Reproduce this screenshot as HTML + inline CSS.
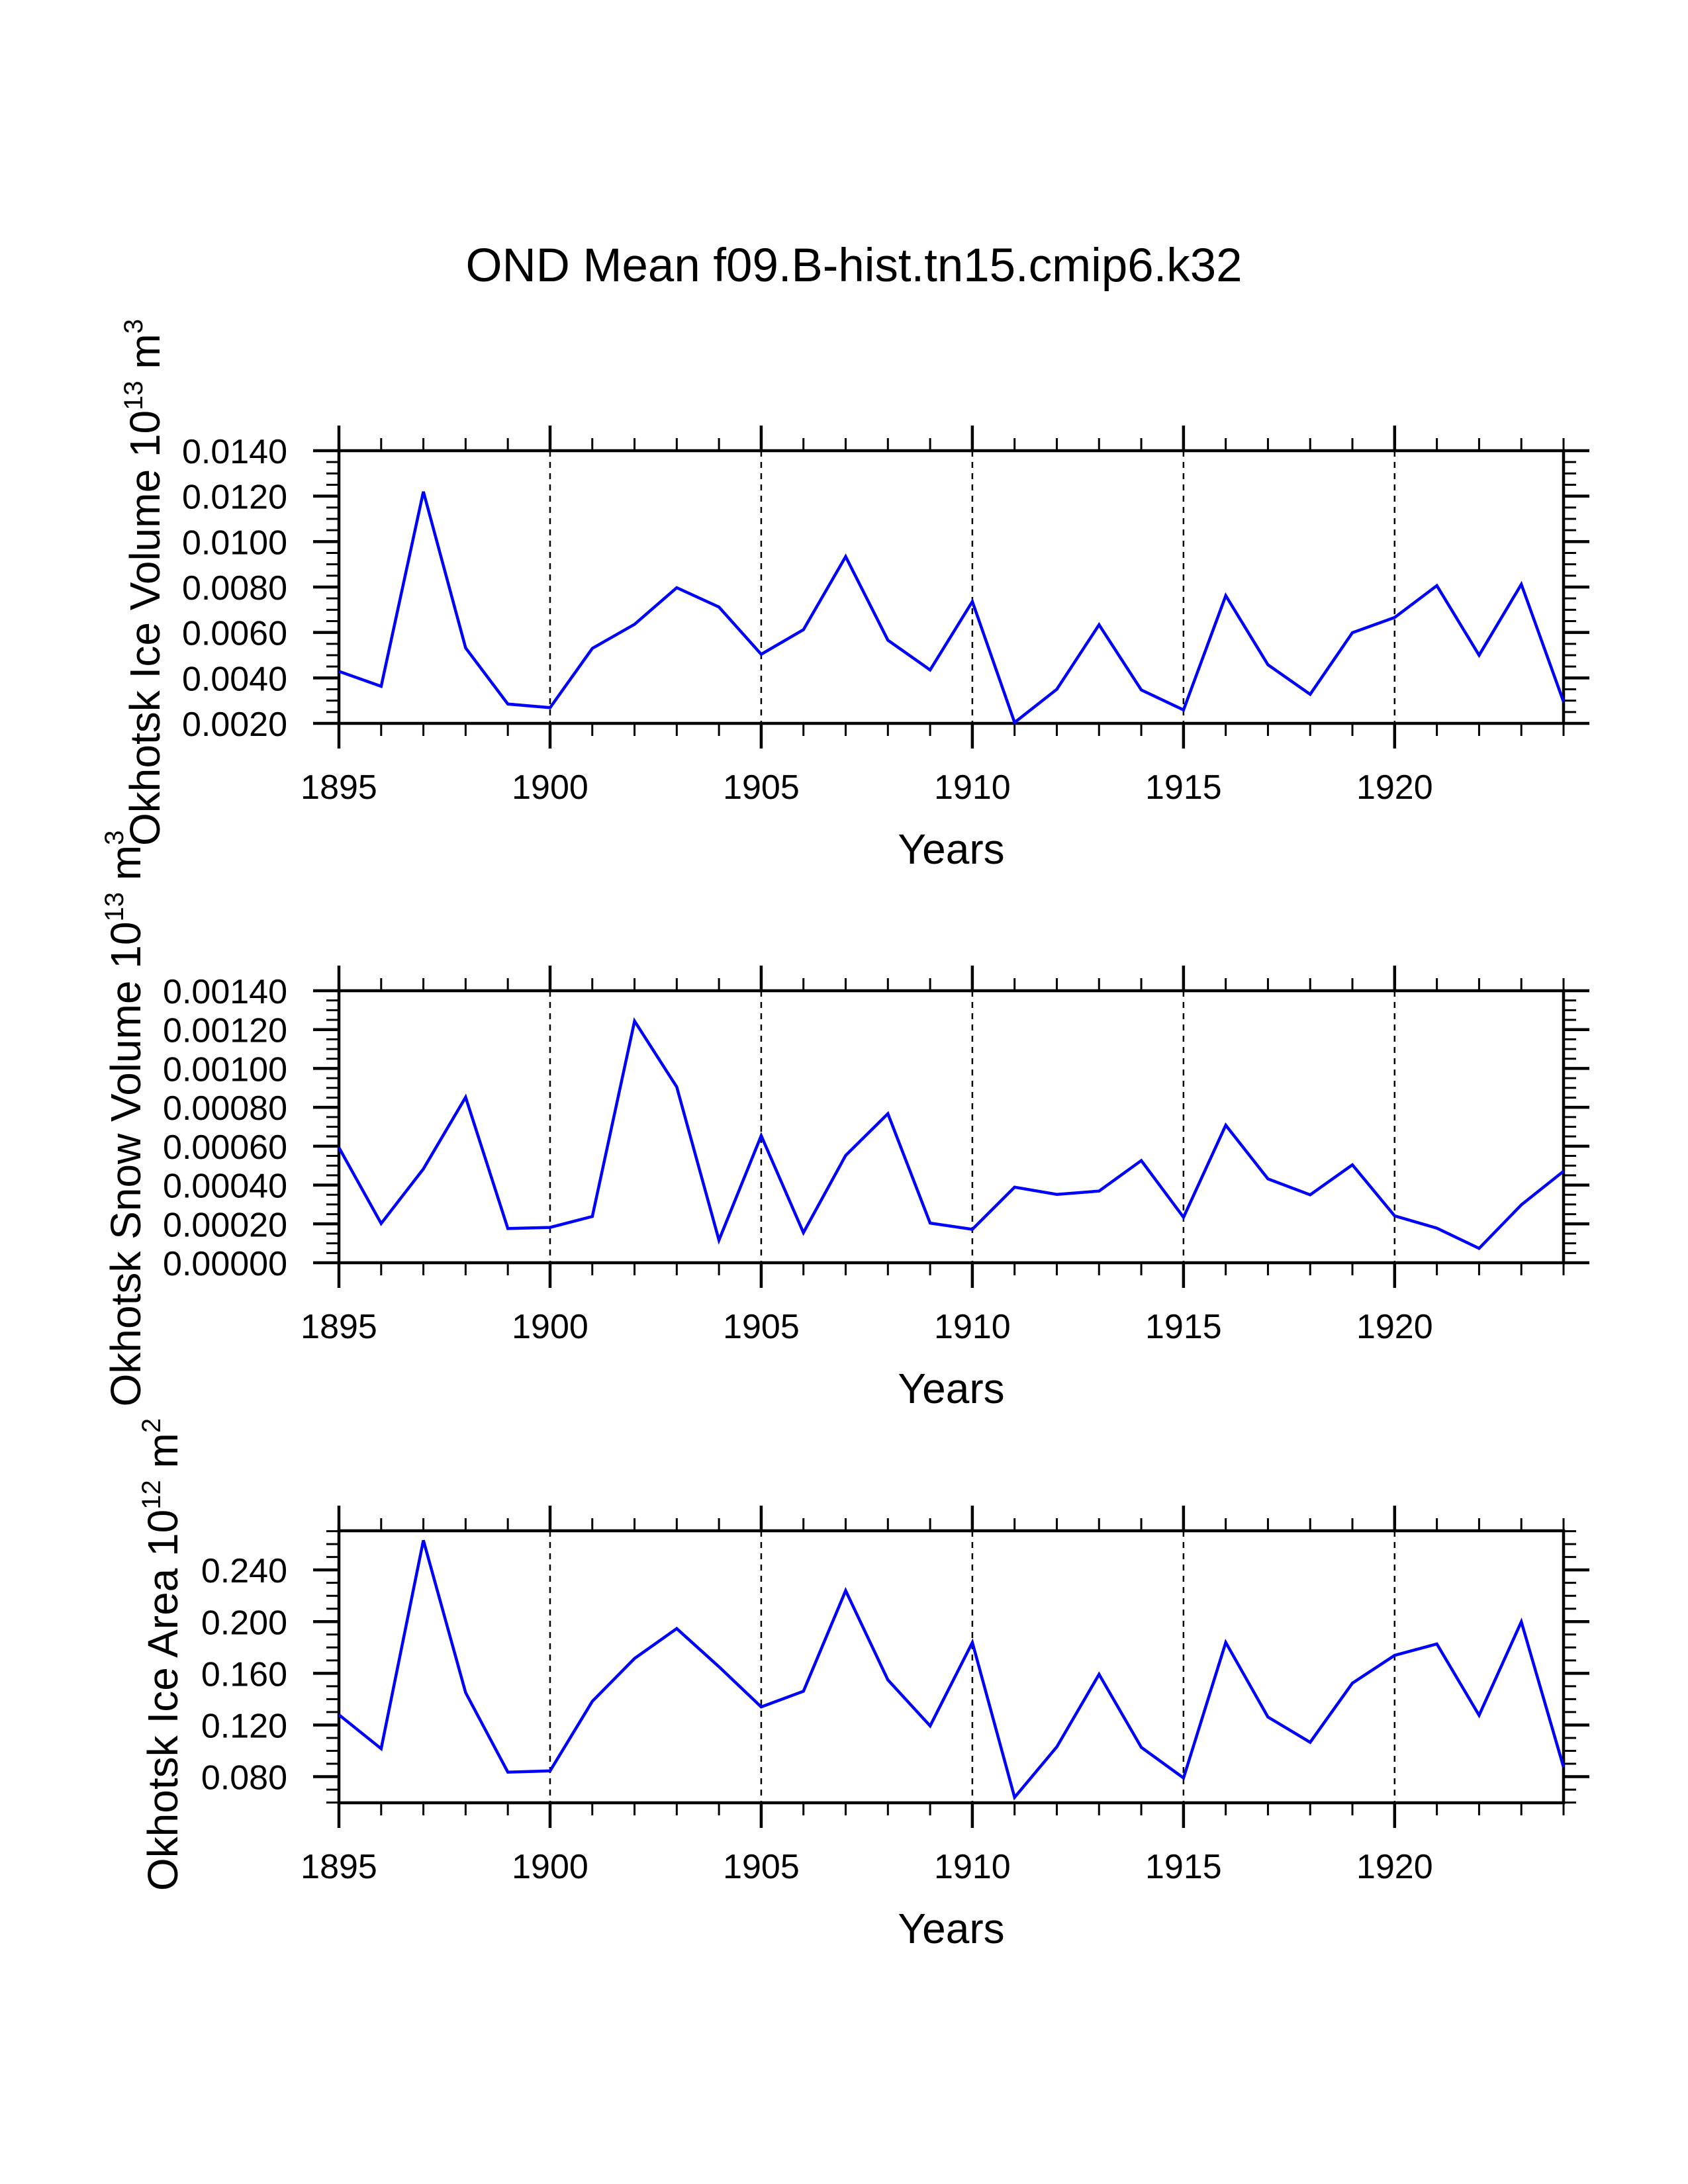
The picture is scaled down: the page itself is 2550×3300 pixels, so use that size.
<!DOCTYPE html>
<html>
<head>
<meta charset="utf-8">
<style>
  html, body { margin: 0; padding: 0; background: #fff; }
  svg { display: block; }
  text { font-family: "Liberation Sans", Arial, sans-serif; fill: #000; }
</style>
</head>
<body>
<svg id="chart" xmlns="http://www.w3.org/2000/svg" width="2550" height="3300" viewBox="0 0 2550 3300">
  <rect x="0" y="0" width="2550" height="3300" fill="#fff"/>
  <text x="1290" y="425" font-size="71" text-anchor="middle" textLength="1173" lengthAdjust="spacingAndGlyphs">OND Mean f09.B-hist.tn15.cmip6.k32</text>
  <g id="panels"></g>
</svg>
<script>
const years = [1895,1896,1897,1898,1899,1900,1901,1902,1903,1904,1905,1906,1907,1908,1909,1910,1911,1912,1913,1914,1915,1916,1917,1918,1919,1920,1921,1922,1923,1924];
const xTickLabels = ["1895","1900","1905","1910","1915","1920"];
const iceVolume = [0.00429,0.00363,0.0122,0.00532,0.00285,0.00269,0.00530,0.00636,0.00797,0.00712,0.00504,0.00612,0.00934,0.00566,0.00435,0.00736,0.00204,0.00350,0.00634,0.00347,0.00259,0.00762,0.00458,0.00328,0.00599,0.00666,0.00806,0.00500,0.00812,0.00295];
const snowVolume = [0.000593,0.000202,0.000483,0.000852,0.000176,0.000182,0.000238,0.001244,0.000905,0.000116,0.000654,0.000155,0.000552,0.000767,0.000204,0.000172,0.000389,0.000352,0.000369,0.000526,0.000234,0.000708,0.000432,0.000350,0.000504,0.000241,0.000178,0.000074,0.000298,0.000471];
const iceArea = [0.1279,0.1017,0.2629,0.1451,0.0835,0.0845,0.1383,0.1715,0.1946,0.1651,0.1340,0.1461,0.2240,0.1549,0.1193,0.1839,0.0640,0.1031,0.1592,0.1027,0.0790,0.1839,0.1262,0.1066,0.1524,0.1739,0.1827,0.1275,0.1999,0.0874];
const iceVolumeTicks = ["0.0020","0.0040","0.0060","0.0080","0.0100","0.0120","0.0140"];
const snowVolumeTicks = ["0.00000","0.00020","0.00040","0.00060","0.00080","0.00100","0.00120","0.00140"];
const iceAreaTicks = ["0.080","0.120","0.160","0.200","0.240"];

const NS = "http://www.w3.org/2000/svg";
const root = document.getElementById('panels');
const X0 = 512, X1 = 2362;

function mk(tag, attrs, parent) {
  const e = document.createElementNS(NS, tag);
  for (const k in attrs) e.setAttribute(k, attrs[k]);
  parent.appendChild(e);
  return e;
}

const panels = [
  {key:'ice-volume', top:681, bot:1093, ymin:0.002, ymax:0.014, minor:0.0005, ticks:iceVolumeTicks, data:iceVolume,
   title:['Okhotsk Ice Volume 10','13',' m','3'], tx:241, ty:880},
  {key:'snow-volume', top:1497, bot:1908, ymin:0, ymax:0.0014, minor:0.00005, ticks:snowVolumeTicks, data:snowVolume,
   title:['Okhotsk Snow Volume 10','13',' m','3'], tx:212, ty:1690},
  {key:'ice-area', top:2313, bot:2724, ymin:0.0598, ymax:0.2703, minor:0.01, ticks:iceAreaTicks, data:iceArea,
   title:['Okhotsk Ice Area 10','12',' m','2'], tx:268, ty:2500}
];

panels.forEach(p => {
  const g = mk('g', {}, root);
  
  
  const xs = yr => X0 + (yr - years[0]) / (years[years.length-1] - years[0]) * (X1 - X0);
  const ys = v => p.bot - (v - p.ymin) / (p.ymax - p.ymin) * (p.bot - p.top);

  xTickLabels.forEach(l => {
    const yr = +l;
    if (yr === years[0]) return;
    const ln = mk('line', {x1:xs(yr), x2:xs(yr), y1:p.top, y2:p.bot, stroke:'#000', 'stroke-width':2.5, 'stroke-dasharray':'9 8'}, g);
    
    
  });

  years.forEach(yr => {
    const major = xTickLabels.indexOf(String(yr)) >= 0;
    const len = major ? 38 : 19;
    const sw = major ? 4.5 : 3;
    const t1 = mk('line', {x1:xs(yr), x2:xs(yr), y1:p.top, y2:p.top - len, stroke:'#000', 'stroke-width':sw}, g);
    
    
    const t2 = mk('line', {x1:xs(yr), x2:xs(yr), y1:p.bot, y2:p.bot + len, stroke:'#000', 'stroke-width':sw}, g);
    
    
  });

  const start = Math.ceil(p.ymin / p.minor - 1e-6);
  for (let i = start; i * p.minor <= p.ymax + 1e-9; i++) {
    const v = i * p.minor;
    const y = ys(v);
    const isMajor = p.ticks.some(t => Math.abs(+t - v) < p.minor * 0.01);
    const len = isMajor ? 39 : 19;
    const sw = isMajor ? 4.5 : 3;
    const a = mk('line', {x1:X0, x2:X0 - len, y1:y, y2:y, stroke:'#000', 'stroke-width':sw}, g);
    
    
    const b = mk('line', {x1:X1, x2:X1 + len, y1:y, y2:y, stroke:'#000', 'stroke-width':sw}, g);
    
    
  }

  p.ticks.forEach(t => {
    const tl = mk('text', {x:434, y:ys(+t) + 19, 'font-size':52, 'text-anchor':'end'}, g);
    tl.textContent = t;
    
    
  });

  xTickLabels.forEach(l => {
    const tl = mk('text', {x:xs(+l), y:p.bot + 114, 'font-size':52, 'text-anchor':'middle'}, g);
    tl.textContent = l;
    
    
  });

  const fr = mk('rect', {x:X0, y:p.top, width:X1 - X0, height:p.bot - p.top, fill:'none', stroke:'#000', 'stroke-width':4.5}, g);
  
  

  const pts = p.data.map((v, i) => xs(years[i]).toFixed(1) + ',' + ys(v).toFixed(1)).join(' ');
  const pl = mk('polyline', {points:pts, fill:'none', stroke:'#0000ff', 'stroke-width':4.5, 'stroke-linejoin':'miter'}, g);
  
  

  const xt = mk('text', {x:(X0 + X1) / 2, y:p.bot + 212, 'font-size':64, 'text-anchor':'middle'}, g);
  xt.textContent = 'Years';
  
  

  const yt = mk('text', {x:0, y:0, 'font-size':64, 'text-anchor':'middle', transform:'translate(' + p.tx + ',' + p.ty + ') rotate(-90)'}, g);
  
  
  const s1 = mk('tspan', {}, yt); s1.textContent = p.title[0];
  const s2 = mk('tspan', {dy:-26, 'font-size':40}, yt); s2.textContent = p.title[1];
  const s3 = mk('tspan', {dy:26}, yt); s3.textContent = p.title[2];
  const s4 = mk('tspan', {dy:-26, 'font-size':40}, yt); s4.textContent = p.title[3];
});
</script>
</body>
</html>
